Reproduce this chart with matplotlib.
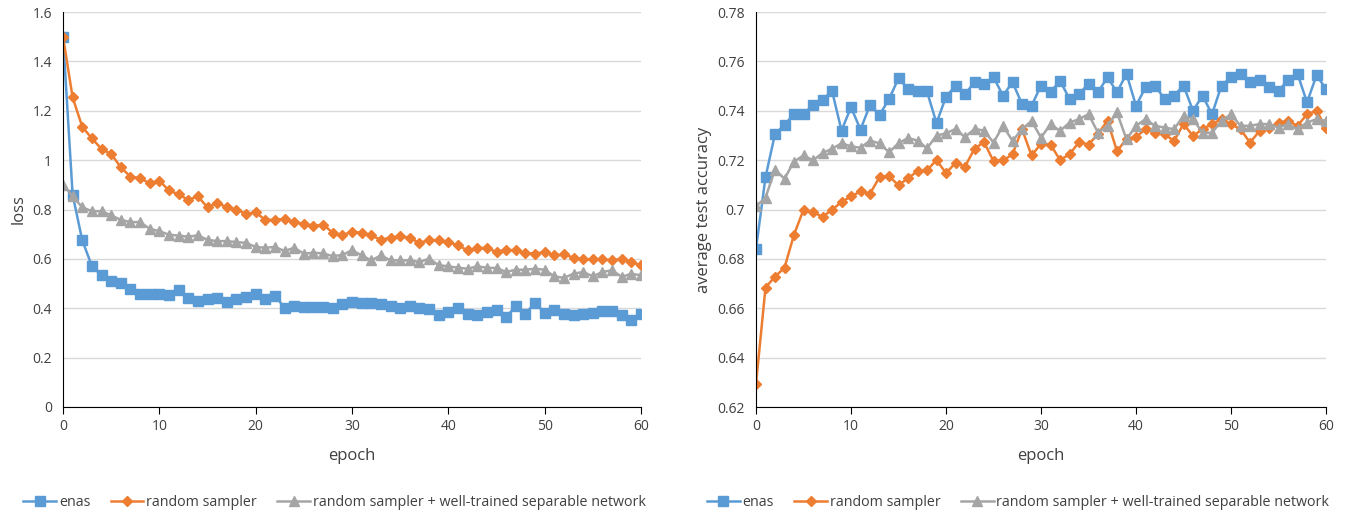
import matplotlib.pyplot as plt
from matplotlib.ticker import FuncFormatter

# datos
epocas = list(range(61))

loss_enas = [1.50, 0.86, 0.675, 0.571, 0.533, 0.510, 0.504, 0.479, 0.459, 0.457,
             0.457, 0.453, 0.473, 0.442, 0.430, 0.439, 0.443, 0.426, 0.436, 0.446,
             0.459, 0.436, 0.450, 0.403, 0.409, 0.405, 0.405, 0.405, 0.403, 0.417,
             0.426, 0.422, 0.422, 0.419, 0.409, 0.399, 0.408, 0.403, 0.395, 0.372,
             0.385, 0.401, 0.378, 0.374, 0.385, 0.392, 0.365, 0.408, 0.378, 0.422,
             0.381, 0.392, 0.378, 0.372, 0.376, 0.381, 0.388, 0.388, 0.372, 0.352,
             0.378]
loss_random = [1.50, 1.254, 1.135, 1.088, 1.045, 1.025, 0.971, 0.933, 0.927, 0.906,
               0.917, 0.877, 0.861, 0.839, 0.853, 0.809, 0.827, 0.809, 0.800, 0.782,
               0.788, 0.758, 0.758, 0.762, 0.749, 0.742, 0.733, 0.739, 0.706, 0.696,
               0.710, 0.706, 0.695, 0.677, 0.686, 0.691, 0.686, 0.664, 0.677, 0.675,
               0.668, 0.655, 0.634, 0.644, 0.644, 0.628, 0.637, 0.634, 0.624, 0.621,
               0.628, 0.614, 0.618, 0.605, 0.598, 0.598, 0.598, 0.594, 0.601, 0.587,
               0.574]
loss_wt = [0.901, 0.853, 0.809, 0.793, 0.793, 0.776, 0.758, 0.749, 0.749, 0.722,
           0.712, 0.698, 0.694, 0.690, 0.695, 0.677, 0.672, 0.672, 0.668, 0.665,
           0.648, 0.645, 0.648, 0.632, 0.645, 0.621, 0.625, 0.622, 0.611, 0.616,
           0.635, 0.614, 0.594, 0.614, 0.594, 0.594, 0.594, 0.587, 0.601, 0.574,
           0.570, 0.564, 0.560, 0.570, 0.564, 0.563, 0.547, 0.556, 0.556, 0.560,
           0.556, 0.529, 0.523, 0.540, 0.547, 0.529, 0.547, 0.554, 0.527, 0.540,
           0.533]

acc_enas = [0.684, 0.7131, 0.7306, 0.7343, 0.7387, 0.7387, 0.7423, 0.7443, 0.7481, 0.7320,
            0.7414, 0.7324, 0.7423, 0.7383, 0.7447, 0.7531, 0.7490, 0.7481, 0.7478, 0.7350,
            0.7457, 0.7501, 0.7468, 0.7515, 0.7508, 0.7536, 0.7461, 0.7516, 0.7427, 0.7420,
            0.7502, 0.7475, 0.7522, 0.7448, 0.7468, 0.7509, 0.7475, 0.7536, 0.7475, 0.7550,
            0.7420, 0.7495, 0.7502, 0.7448, 0.7461, 0.7502, 0.7400, 0.7461, 0.7386, 0.7502,
            0.7536, 0.7550, 0.7516, 0.7523, 0.7495, 0.7482, 0.7523, 0.7550, 0.7434, 0.7543,
            0.7489]
acc_random = [0.6293, 0.6684, 0.6728, 0.6764, 0.6898, 0.6999, 0.6990, 0.6970, 0.6999, 0.7030,
              0.7053, 0.7073, 0.7064, 0.7131, 0.7135, 0.7098, 0.7127, 0.7155, 0.7158, 0.7201,
              0.7147, 0.7189, 0.7174, 0.7246, 0.7273, 0.7196, 0.7199, 0.7223, 0.7326, 0.7219,
              0.7266, 0.7263, 0.7201, 0.7223, 0.7273, 0.7263, 0.7306, 0.7360, 0.7236, 0.7286,
              0.7293, 0.7326, 0.7311, 0.7305, 0.7278, 0.7346, 0.7298, 0.7325, 0.7346, 0.7366,
              0.7346, 0.7325, 0.7271, 0.7318, 0.7332, 0.7352, 0.7359, 0.7339, 0.7386, 0.7400,
              0.7332]
acc_wt = [0.7013, 0.7048, 0.7161, 0.7125, 0.7194, 0.7219, 0.7199, 0.7229, 0.7246, 0.7268,
          0.7256, 0.7250, 0.7279, 0.7268, 0.7232, 0.7268, 0.7290, 0.7279, 0.7248, 0.7299,
          0.7309, 0.7326, 0.7293, 0.7326, 0.7320, 0.7271, 0.7339, 0.7278, 0.7325, 0.7359,
          0.7291, 0.7346, 0.7318, 0.7352, 0.7366, 0.7386, 0.7311, 0.7339, 0.7393, 0.7284,
          0.7339, 0.7366, 0.7339, 0.7332, 0.7325, 0.7379, 0.7366, 0.7311, 0.7311, 0.7359,
          0.7386, 0.7339, 0.7339, 0.7346, 0.7346, 0.7332, 0.7346, 0.7325, 0.7352, 0.7366,
          0.7359]

nombres = ['enas', 'random sampler', 'random sampler + well-trained separable network']
colores = ['#5B9BD5', '#ED7D31', '#A5A5A5']
marcas = ['s', 'D', '^']
tam_marcas = [6.5, 5, 7]

plt.rcParams['font.family'] = ['Open Sans', 'DejaVu Sans']

fig = plt.figure(figsize=(13.53, 5.17), dpi=100)
ax1 = fig.add_axes([63 / 1353, 110 / 517, 578 / 1353, 395 / 517])
ax2 = fig.add_axes([756 / 1353, 110 / 517, 570 / 1353, 395 / 517])

fmt = FuncFormatter(lambda v, p: f'{round(v, 4):g}')

for ax, series, ylim, paso, ylabel, centro in [
        (ax1, [loss_enas, loss_random, loss_wt], (0, 1.6), 0.2, 'loss', 0.47),
        (ax2, [acc_enas, acc_random, acc_wt], (0.62, 0.78), 0.02, 'average test accuracy', 0.46)]:
    for y, nombre, c, m, ms in zip(series, nombres, colores, marcas, tam_marcas):
        ax.plot(epocas, y, color=c, marker=m, markersize=ms, linewidth=1.8, label=nombre)
    ax.set_xlim(0, 60)
    ax.set_ylim(*ylim)
    n = int(round((ylim[1] - ylim[0]) / paso))
    ax.set_yticks([ylim[0] + i * paso for i in range(n + 1)])
    ax.set_xticks(range(0, 61, 10))
    ax.yaxis.set_major_formatter(fmt)
    ax.grid(axis='y', color='#D9D9D9', linewidth=1)
    ax.set_axisbelow(True)
    for s in ['top', 'right']:
        ax.spines[s].set_visible(False)
    ax.spines['left'].set_color('#000000')
    ax.spines['bottom'].set_color('#000000')
    ax.tick_params(axis='y', length=0, labelsize=10, pad=8, colors='#404040')
    ax.tick_params(axis='x', length=5, direction='out', labelsize=10, colors='#404040')
    ax.tick_params(axis='x', color='#000000')
    ax.set_xlabel('epoch', fontsize=12, color='#404040', labelpad=10)
    ax.set_ylabel(ylabel, fontsize=12, color='#404040')
    ax.legend(loc='upper center', bbox_to_anchor=(centro, -0.19), ncol=3, frameon=False,
              fontsize=10.3, handlelength=2.3, columnspacing=1.4, handletextpad=0.2,
              labelcolor='#404040')

fig.savefig('out.png', dpi=100)
